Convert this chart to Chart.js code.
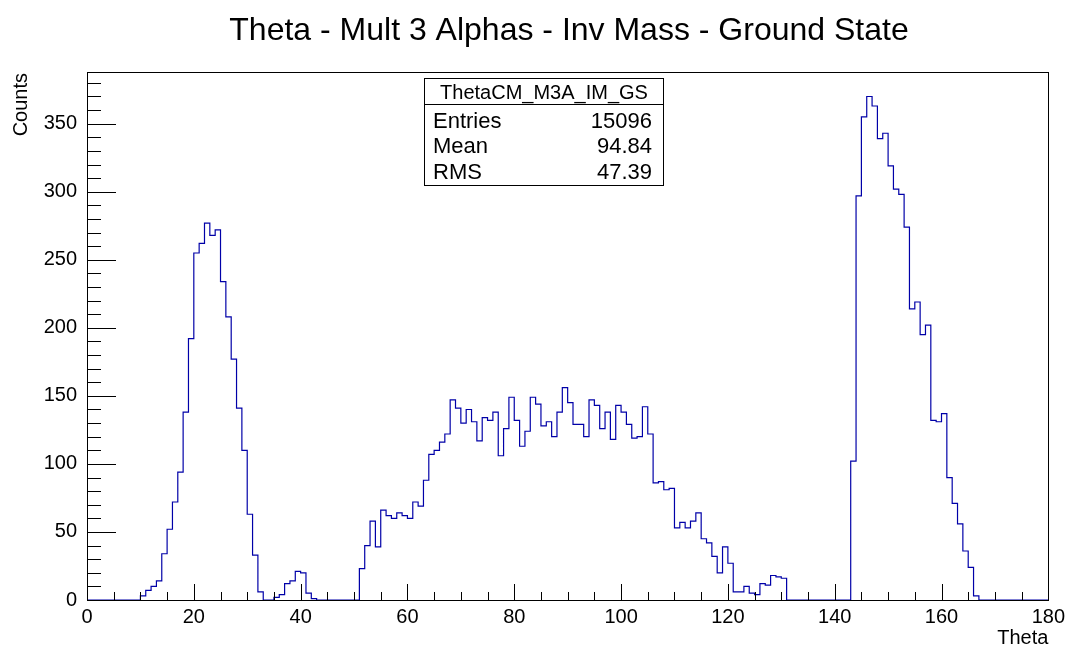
<!DOCTYPE html>
<html>
<head>
<meta charset="utf-8">
<script src="https://cdn.jsdelivr.net/npm/chart.js@4.4.1/dist/chart.umd.min.js"></script>
<style>
    html, body { margin: 0; padding: 0; background: #fff; }
    #wrap { width: 1070px; height: 648px; }
</style>
</head>
<body>
<div id="wrap"><canvas id="histChart" width="1070" height="648"></canvas></div>
<script>
// ============================
// Histogram data (ThetaCM_M3A_IM_GS), 180 bins of 1 deg from 0 to 180
// ============================
const histTitle = "Theta - Mult 3 Alphas - Inv Mass - Ground State";
const histName = "ThetaCM_M3A_IM_GS";
const binLow = 0;
const binWidth = 1;
const counts = [
    0, 0, 0, 0, 0, 0, 0, 0, 0, 0,            // 0-9
    3, 7, 10, 14, 34, 52, 72, 94, 138, 192,   // 10-19
    255, 262, 277, 268, 272, 234, 208, 177, 141, 110, // 20-29
    63, 33, 6, 0, 0, 2, 4, 12, 14, 21,        // 30-39
    20, 5, 1, 0, 0, 0, 0, 0, 0, 0,            // 40-49
    0, 23, 40, 58, 39, 66, 62, 60, 64, 62,    // 50-59
    60, 72, 69, 88, 107, 110, 116, 122, 147, 141, // 60-69
    130, 140, 131, 117, 134, 132, 138, 106, 126, 149, // 70-79
    132, 113, 124, 149, 144, 128, 131, 120, 138, 156, // 80-89
    145, 129, 129, 120, 147, 143, 126, 138, 118, 143, // 90-99
    138, 129, 119, 120, 142, 122, 86, 87, 81, 82,     // 100-109
    53, 57, 53, 58, 64, 45, 42, 32, 20, 39,   // 110-119
    27, 6, 6, 10, 5, 4, 12, 11, 18, 17,       // 120-129
    16, 0, 0, 0, 0, 0, 0, 0, 0, 0,            // 130-139
    0, 0, 0, 102, 297, 355, 370, 363, 339, 343, // 140-149
    319, 302, 298, 274, 214, 219, 195, 202, 132, 131, // 150-159
    137, 90, 71, 56, 36, 24, 3, 0, 0, 0,      // 160-169
    0, 0, 0, 0, 0, 0, 0, 0, 0, 0              // 170-179
];
const xMin = 0, xMax = 180, xMajor = 20, xMinor = 5;
const yMin = 0, yMax = 388, yMajor = 50, yMinor = 10;
const xTitle = "Theta";
const yTitle = "Counts";
const statNames = ["Entries", "Mean", "RMS"];
const statValues = ["15096", "94.84", "47.39"];

const FONT = "'Liberation Sans', Arial, Helvetica, sans-serif";

// step points: left edge of each bin, plus the closing edge
const points = counts.map((c, i) => ({ x: binLow + i * binWidth, y: c }));
points.push({ x: binLow + counts.length * binWidth, y: counts[counts.length - 1] });

// ============================
// Frame, ticks, titles, stats box (ROOT style)
// ============================
const rootDecor = {
    id: "rootDecor",
    afterDraw(chart) {
        const ctx = chart.ctx;
        const a = chart.chartArea;
        const xs = chart.scales.x, ys = chart.scales.y;
        ctx.save();
        ctx.strokeStyle = "#000";
        ctx.lineWidth = 1;

        // frame
        ctx.strokeRect(Math.round(a.left) + 0.5, Math.round(a.top) + 0.5,
            Math.round(a.right - a.left), Math.round(a.bottom - a.top));

        // x ticks (inside, upward)
        ctx.beginPath();
        for (let v = xMin; v <= xMax; v += xMinor) {
            const px = Math.round(xs.getPixelForValue(v)) + 0.5;
            const len = (v % xMajor === 0) ? 16 : 8;
            ctx.moveTo(px, a.bottom);
            ctx.lineTo(px, a.bottom - len);
        }
        // y ticks (inside, rightward)
        for (let v = yMin; v <= yMax; v += yMinor) {
            const py = Math.round(ys.getPixelForValue(v)) + 0.5;
            const len = (v % yMajor === 0) ? 29 : 14;
            ctx.moveTo(a.left, py);
            ctx.lineTo(a.left + len, py);
        }
        ctx.stroke();

        // title
        ctx.fillStyle = "#000";
        ctx.font = "32px " + FONT;
        ctx.textAlign = "center";
        ctx.textBaseline = "middle";
        ctx.fillText(histTitle, 569, 31);

        // axis titles
        ctx.font = "20px " + FONT;
        ctx.textAlign = "right";
        ctx.textBaseline = "alphabetic";
        ctx.fillText(xTitle, a.right, 644);

        ctx.save();
        ctx.translate(27, 73);
        ctx.rotate(-Math.PI / 2);
        ctx.textAlign = "right";
        ctx.fillText(yTitle, 0, 0);
        ctx.restore();

        // stats box
        const bx = 424.5, by = 78.5, bw = 239, bh = 107;
        ctx.fillStyle = "#fff";
        ctx.fillRect(bx, by, bw, bh);
        ctx.strokeRect(bx, by, bw, bh);
        ctx.beginPath();
        ctx.moveTo(bx, 104.5);
        ctx.lineTo(bx + bw, 104.5);
        ctx.stroke();

        ctx.fillStyle = "#000";
        ctx.font = "20px " + FONT;
        ctx.textAlign = "center";
        ctx.textBaseline = "middle";
        ctx.fillText(histName, bx + bw / 2, 93);

        ctx.font = "22px " + FONT;
        const rowY = [122, 147, 173];
        statNames.forEach((n, i) => {
            ctx.textAlign = "left";
            ctx.fillText(n, 433, rowY[i]);
            ctx.textAlign = "right";
            ctx.fillText(statValues[i], 652, rowY[i]);
        });

        ctx.restore();
    }
};

// ============================
// Chart
// ============================
const chart = new Chart(document.getElementById("histChart"), {
    type: "line",
    data: {
        datasets: [{
            label: histName,
            data: points,
            stepped: "before",
            borderColor: "#0000a8",
            borderWidth: 1.2,
            pointRadius: 0,
            fill: false,
            tension: 0
        }]
    },
    options: {
        responsive: false,
        animation: false,
        layout: { padding: { top: 72, right: 20, left: 0, bottom: 0 } },
        plugins: {
            legend: { display: false },
            title: { display: false },
            tooltip: { enabled: false }
        },
        scales: {
            x: {
                type: "linear",
                min: xMin,
                max: xMax,
                grid: { display: false, drawTicks: false },
                border: { display: false },
                ticks: {
                    stepSize: xMajor,
                    includeBounds: false,
                    maxRotation: 0,
                    autoSkip: false,
                    padding: 5,
                    color: "#000",
                    font: { family: FONT, size: 20 }
                },
                afterFit(scale) { scale.height = 48; }
            },
            y: {
                min: yMin,
                max: yMax,
                grid: { display: false, drawTicks: false },
                border: { display: false },
                ticks: {
                    stepSize: yMajor,
                    includeBounds: false,
                    autoSkip: false,
                    padding: 10,
                    color: "#000",
                    font: { family: FONT, size: 20 }
                },
                afterFit(scale) { scale.width = 87; }
            }
        }
    },
    plugins: [rootDecor]
});
</script>
</body>
</html>
